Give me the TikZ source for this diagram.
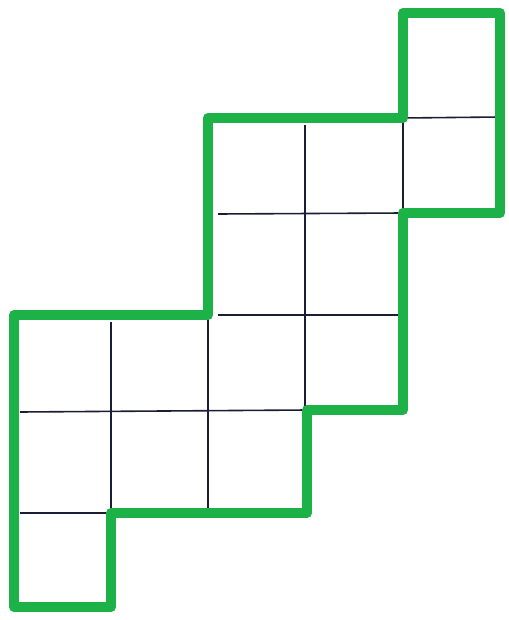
\documentclass[tikz,border=0pt]{standalone}
\definecolor{marker}{RGB}{28,178,72}
\definecolor{pen}{RGB}{25,30,50}
\tikzset{thin grid/.style={draw=pen,line width=1.6pt},
 outline/.style={draw=marker,line width=10pt,line join=round,line cap=round}}
\begin{document}
\begin{tikzpicture}[x=1pt,y=-1pt]
\useasboundingbox[fill=white] (0,0) rectangle (508,620);
% corner coordinates
\coordinate (a) at (403,13);
\coordinate (b) at (500,13);
\coordinate (c) at (500,213);
\coordinate (d) at (403,213);
\coordinate (e) at (403,410);
\coordinate (f) at (307,410);
\coordinate (g) at (307,513);
\coordinate (h) at (111,513);
\coordinate (i) at (111,607);
\coordinate (j) at (14,607);
\coordinate (k) at (14,315);
\coordinate (l) at (208,315);
\coordinate (m) at (208,118);
\coordinate (n) at (403,118);
% thin inner lines
\draw[thin grid] (n) -- (500,117);
\draw[thin grid] (n) -- (d);
\draw[thin grid] (218,214) -- (d);
\draw[thin grid] (305,125) -- (305,410);
\draw[thin grid] (218,315) -- (403,315);
\draw[thin grid] (20,412) -- (f);
\draw[thin grid] (111,322) -- (h);
\draw[thin grid] (208,315) -- (208,508);
\draw[thin grid] (20,513) -- (h);
% green outline
\draw[outline] (a) -- (b) -- (c) -- (d) -- (e) -- (f) -- (g) -- (h) -- (i) -- (j) -- (k) -- (l) -- (m) -- (n) -- cycle;
\end{tikzpicture}
\end{document}
